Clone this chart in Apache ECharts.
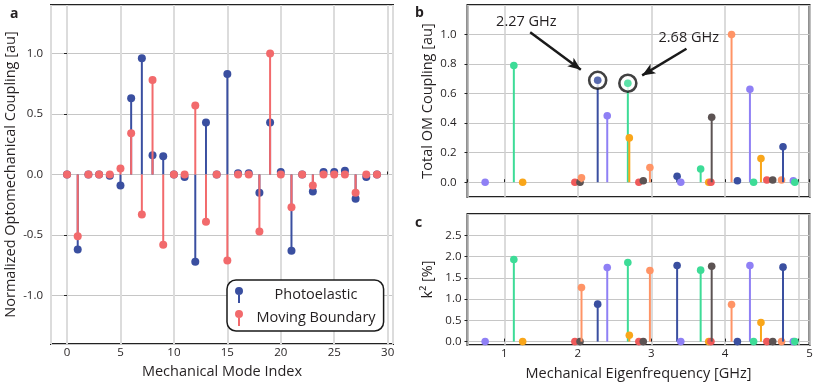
<!DOCTYPE html>
<html><head><meta charset="utf-8">
<script src="https://cdn.jsdelivr.net/npm/echarts@6/dist/echarts.min.js"></script>
<style>html,body{margin:0;padding:0;background:#fff}#c{width:831px;height:384px}</style>
</head><body><div id="c"></div>
<script>
// ---- data ----
const modeIndex = [0,1,2,3,4,5,6,7,8,9,10,11,12,13,14,15,16,17,18,19,20,21,22,23,24,25,26,27,28,29];
const photoelastic = [0,-0.62,0,0,-0.01,-0.09,0.63,0.96,0.16,0.15,0,-0.02,-0.72,0.43,0,0.83,0.01,0.01,-0.15,0.43,0.02,-0.63,0,-0.14,0.02,0.02,0.03,-0.2,-0.02,0];
const movingBoundary = [0,-0.51,0,0,0,0.05,0.34,-0.33,0.78,-0.58,0,0,0.57,-0.39,0,-0.71,0,0,-0.47,1.0,0,-0.27,0,-0.09,0,0,0,-0.15,0,0];
const eigenFreq = [0.74,1.13,1.25,1.96,2.03,2.05,2.27,2.40,2.68,2.70,2.83,2.89,2.98,3.35,3.40,3.67,3.78,3.81,3.82,4.09,4.17,4.34,4.39,4.49,4.57,4.65,4.77,4.79,4.93,4.95];
const totalCoupling = [0,0.79,0,0,0,0.03,0.69,0.45,0.67,0.30,0,0.01,0.10,0.04,0,0.09,0,0,0.44,1.0,0.01,0.63,0,0.16,0.015,0.015,0.015,0.24,0.01,0];
const k2 = [0,1.93,0,0,0,1.27,0.88,1.74,1.86,0.15,0,0,1.67,1.79,0,1.68,0,0,1.77,0.87,0,1.79,0,0.45,0,0,0,1.75,0,0];
const highlightedModes = [6, 8];
const highlightLabels = ['2.27 GHz', '2.68 GHz'];
const seriesNames = ['Photoelastic', 'Moving Boundary'];
const panelLabels = ['a', 'b', 'c'];
const axisTitles = ['Mechanical Mode Index', 'Normalized Optomechanical Coupling [au]', 'Total OM Coupling [au]', 'k\u00b2 [%]', 'Mechanical Eigenfrequency [GHz]'];

// ---- styles ----
const FONT = 'Open Sans';
const TXT = '#231f20';
const PE_COLOR = '#3a4fa0';
const MB_COLOR = '#f26a6c';
const modeColors = ['#8f80f5', '#3ddc97', '#f9a61a', '#ef5a5a', '#5c5353', '#ff9466', '#3a4fa0'];

function stemRender(colorOf, r, lw) {
  return function (params, api) {
    const x = api.value(0), y = api.value(1);
    const b = api.coord([x, 0]);
    const t = api.coord([x, y]);
    const c = colorOf(params.dataIndex);
    return { type: 'group', children: [
      { type: 'line', shape: { x1: b[0], y1: b[1], x2: t[0], y2: t[1] }, style: { stroke: c, lineWidth: lw } },
      { type: 'circle', shape: { cx: t[0], cy: t[1], r: r }, style: { fill: c } }
    ]};
  };
}

const tickLbl = { fontFamily: FONT, fontSize: 11.5, color: TXT };
const nameStyle = { fontFamily: FONT, fontSize: 14.5, color: TXT };
const gridBase = { show: true, borderColor: '#222', borderWidth: 2, backgroundColor: 'transparent' };
const titleStyle = { fontFamily: FONT, fontSize: 14, fontWeight: 'bold', color: TXT };

const option = {
  animation: false,
  title: [
    { text: panelLabels[0], left: 5, top: 2, textStyle: titleStyle },
    { text: panelLabels[1], left: 410, top: 1, textStyle: titleStyle },
    { text: panelLabels[2], left: 410, top: 211, textStyle: titleStyle }
  ],
  grid: [
    Object.assign({ left: 51, top: 5, width: 342, height: 340.5 }, gridBase),
    Object.assign({ left: 467.5, top: 5, width: 342, height: 192 }, gridBase),
    Object.assign({ left: 467.5, top: 214, width: 342, height: 131 }, gridBase)
  ],
  legend: {
    left: 227, top: 280, orient: 'vertical',
    data: seriesNames,
    icon: 'path://M0,4A4,4,0,1,1,8,4A4,4,0,1,1,0,4ZM3,4L5,4L5,16L3,16Z',
    itemWidth: 8, itemHeight: 16, itemGap: 7,
    padding: [7, 8, 5, 8],
    borderColor: '#1a1a1a', borderWidth: 1.5, borderRadius: 9, backgroundColor: '#fff',
    selectedMode: false,
    formatter: n => '{t|' + n + '}',
    textStyle: { rich: { t: { width: 136, align: 'center', fontSize: 14.5, fontFamily: FONT, color: TXT } } }
  },
  xAxis: [
    { type: 'value', gridIndex: 0, min: -1.5, max: 30.5, splitNumber: 6,
      name: axisTitles[0], nameLocation: 'middle', nameGap: 20, nameTextStyle: nameStyle,
      axisLine: { show: false }, axisTick: { show: true, inside: true, length: 3, lineStyle: { color: '#222', width: 1 } },
      axisLabel: Object.assign({ margin: 3, showMinLabel: false, showMaxLabel: false }, tickLbl),
      splitLine: { show: true, lineStyle: { color: '#dcdcdc', width: 2 } } },
    { type: 'value', gridIndex: 1, min: 0.5, max: 5.15, splitNumber: 5,
      axisLine: { show: false }, axisTick: { show: true, inside: true, length: 3, lineStyle: { color: '#222', width: 1 } },
      axisLabel: { show: false },
      splitLine: { show: true, lineStyle: { color: '#cfcfcf', width: 1.5 } } },
    { type: 'value', gridIndex: 2, min: 0.5, max: 5.15, splitNumber: 5,
      name: axisTitles[4], nameLocation: 'middle', nameGap: 21, nameTextStyle: nameStyle,
      axisLine: { show: false }, axisTick: { show: true, inside: true, length: 3, lineStyle: { color: '#222', width: 1 } },
      axisLabel: Object.assign({ margin: 3, showMinLabel: false, showMaxLabel: false,
        formatter: v => v === 5 ? '{r|5}' : String(v),
        rich: { r: { padding: [0, 0, 0, 22], fontFamily: FONT, fontSize: 11.5, color: TXT } } }, tickLbl),
      splitLine: { show: true, lineStyle: { color: '#cfcfcf', width: 1.5 } } }
  ],
  yAxis: [
    { type: 'value', gridIndex: 0, min: -1.4, max: 1.4, splitNumber: 6,
      name: axisTitles[1], nameLocation: 'middle', nameGap: 33, nameTextStyle: nameStyle,
      axisLine: { show: false }, axisTick: { show: true, length: 3, lineStyle: { color: '#222', width: 1 } },
      axisLabel: Object.assign({ margin: 8, showMinLabel: false, showMaxLabel: false, formatter: v => v.toFixed(1) }, tickLbl),
      splitLine: { show: true, lineStyle: { color: '#c6c6c6', width: 1 } } },
    { type: 'value', gridIndex: 1, min: -0.1, max: 1.2, splitNumber: 6,
      name: axisTitles[2], nameLocation: 'middle', nameGap: 32, nameTextStyle: nameStyle,
      axisLine: { show: false }, axisTick: { show: true, length: 3, lineStyle: { color: '#222', width: 1 } },
      axisLabel: Object.assign({ margin: 11, showMinLabel: false, showMaxLabel: false, formatter: v => v.toFixed(1) }, tickLbl),
      splitLine: { show: true, lineStyle: { color: '#c6c6c6', width: 1 } } },
    { type: 'value', gridIndex: 2, min: -0.08, max: 3.0, splitNumber: 6,
      name: axisTitles[3], nameLocation: 'middle', nameGap: 32, nameTextStyle: nameStyle,
      axisLine: { show: false }, axisTick: { show: true, length: 3, lineStyle: { color: '#222', width: 1 } },
      axisLabel: Object.assign({ margin: 6, showMinLabel: false, showMaxLabel: false, formatter: v => v.toFixed(1) }, tickLbl),
      splitLine: { show: true, lineStyle: { color: '#c6c6c6', width: 1 } } }
  ],
  series: [
    { type: 'custom', name: seriesNames[0], xAxisIndex: 0, yAxisIndex: 0, z: 2,
      itemStyle: { color: PE_COLOR },
      data: modeIndex.map((m, i) => [m, photoelastic[i]]),
      renderItem: stemRender(() => PE_COLOR, 4, 2) },
    { type: 'custom', name: seriesNames[1], xAxisIndex: 0, yAxisIndex: 0, z: 3,
      itemStyle: { color: MB_COLOR },
      data: modeIndex.map((m, i) => [m, movingBoundary[i]]),
      renderItem: stemRender(() => MB_COLOR, 4, 2) },
    { type: 'custom', name: 'total', xAxisIndex: 1, yAxisIndex: 1, z: 2,
      data: eigenFreq.map((f, i) => [f, totalCoupling[i]]),
      renderItem: stemRender(i => modeColors[i % modeColors.length], 3.8, 2) },
    { type: 'scatter', name: 'rings', xAxisIndex: 1, yAxisIndex: 1, z: 4, silent: true,
      symbol: 'circle', symbolSize: 17,
      itemStyle: { color: '#fff', borderColor: '#111', borderWidth: 2.6 },
      emphasis: { disabled: true },
      data: highlightedModes.map(i => [eigenFreq[i], totalCoupling[i]]),
      markLine: {
        silent: true, symbol: ['none', 'arrow'], symbolSize: [8, 13],
        lineStyle: { color: '#1a1a1a', width: 2.5, type: 'solid' },
        label: { show: false }, emphasis: { disabled: true },
        data: [
          [{ coord: [1.352, 1.016], symbol: 'none' }, { coord: [2.041, 0.761], symbol: 'arrow', symbolSize: [8, 13] }],
          [{ coord: [3.477, 0.904], symbol: 'none' }, { coord: [2.875, 0.7235], symbol: 'arrow', symbolSize: [8, 13] }]
        ]
      },
      markPoint: {
        silent: true, symbol: 'circle', symbolSize: 1, itemStyle: { color: 'rgba(0,0,0,0)' },
        label: { show: true, position: 'inside', formatter: '{b}', fontFamily: FONT, fontSize: 14.5, color: TXT },
        data: [
          { name: highlightLabels[0], coord: [1.30, 1.089] },
          { name: highlightLabels[1], coord: [3.508, 0.978] }
        ]
      } },
    { type: 'scatter', name: 'dots', xAxisIndex: 1, yAxisIndex: 1, z: 5, silent: true,
      symbol: 'circle', symbolSize: 7.6,
      emphasis: { disabled: true },
      itemStyle: { color: p => modeColors[highlightedModes[p.dataIndex] % modeColors.length] },
      data: highlightedModes.map(i => [eigenFreq[i], totalCoupling[i]]) },
    { type: 'custom', name: 'k2', xAxisIndex: 2, yAxisIndex: 2, z: 2,
      data: eigenFreq.map((f, i) => [f, k2[i]]),
      renderItem: stemRender(i => modeColors[i % modeColors.length], 3.8, 2) }
  ]
};

const chart = echarts.init(document.getElementById('c'), null, { renderer: 'canvas', width: 831, height: 384 });
chart.setOption(option);
</script>
</body></html>
